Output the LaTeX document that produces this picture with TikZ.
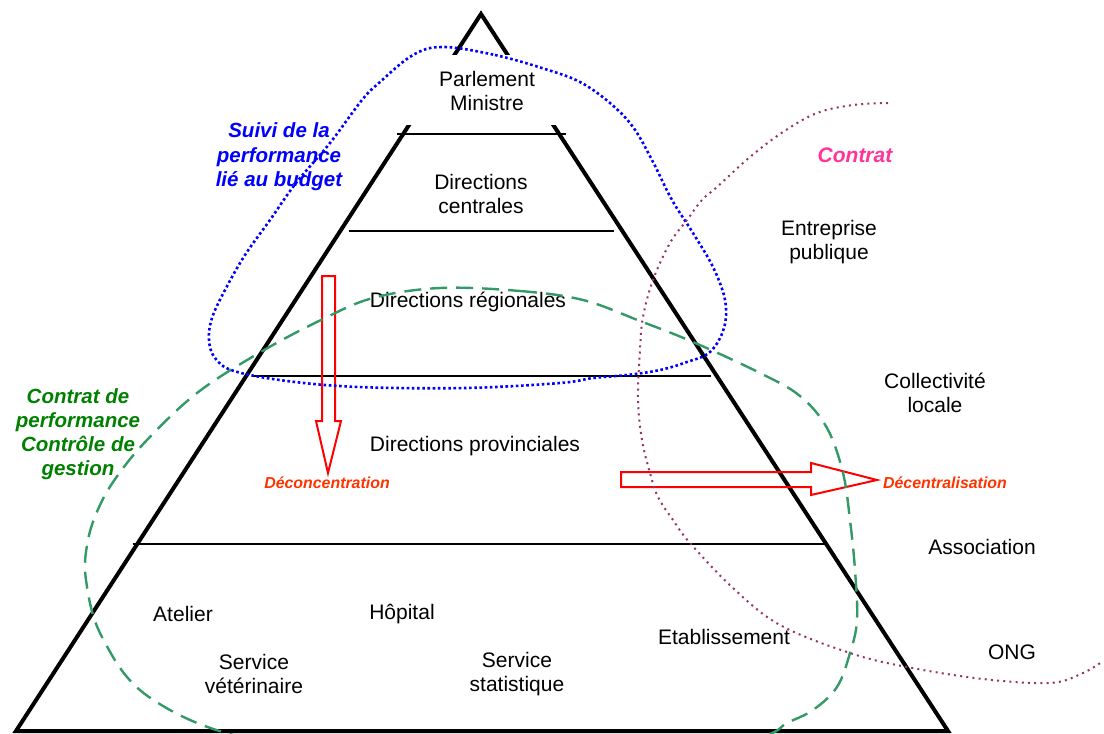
\documentclass[tikz,border=0pt]{standalone}
\usepackage{fontspec}
\setmainfont{Liberation Sans}
\definecolor{myblue}{HTML}{0000FF}
\definecolor{mygreen}{HTML}{339966}
\definecolor{txtgreen}{HTML}{008000}
\definecolor{mypurple}{HTML}{993366}
\definecolor{mypink}{HTML}{FF3399}
\definecolor{myorange}{HTML}{FF3300}
\definecolor{myred}{HTML}{FF0000}
\begin{document}
\begin{tikzpicture}[x=1pt,y=-1pt,
  tri/.style={line width=4pt, line join=miter},
  hline/.style={line width=1.6pt},
  lbl/.style={font=\fontsize{21}{24}\selectfont, align=center, inner sep=0pt},
  bluelbl/.style={font=\fontsize{20.5}{24.5}\selectfont\bfseries\itshape, text=myblue, align=center, inner sep=0pt},
  greenlbl/.style={font=\fontsize{20.5}{24}\selectfont\bfseries\itshape, text=txtgreen, align=center, inner sep=0pt},
  pinklbl/.style={font=\fontsize{21}{24}\selectfont\bfseries\itshape, text=mypink, inner sep=0pt},
  orangelbl/.style={font=\fontsize{15.9}{18}\selectfont\bfseries\itshape, text=myorange, inner sep=0pt},
  redarrow/.style={draw=myred, line width=2pt, line join=miter},
  bluedot/.style={draw=myblue, line width=2.6pt, dash pattern=on 2.6pt off 2.6pt},
  greendash/.style={draw=mygreen, line width=2.4pt, dash pattern=on 17pt off 9pt},
  purpledot/.style={draw=mypurple, line width=2pt, dash pattern=on 2pt off 4.2pt}
]
\path[use as bounding box] (0,0) rectangle (1104,734);
\clip (0,0) rectangle (1104,734);

% pyramid
\coordinate (apex) at (481,14);
\coordinate (bl) at (16,731);
\coordinate (br) at (948,731);
\draw[tri] (bl) -- (apex) -- (br) -- cycle;

% white box of the top level
\node[fill=white, minimum width=170, minimum height=70, inner sep=0pt] (topbox) at (483,90) {};

% level lines
\draw[hline] (397,134) -- (566,134);
\draw[hline] (349,231) -- (614,231);
\draw[hline] (253,376) -- (711,376);
\draw[hline] (133,544) -- (828,544);

% pyramid texts
\node[lbl] (parl) at (487,91) {Parlement\\Ministre};
\node[lbl] (dcent) at (481,194) {Directions\\centrales};
\node[lbl] (dreg) at (468,302) {Directions régionales};
\node[lbl] (dprov) at (475,446) {Directions provinciales};
\node[lbl] (atelier) at (183,614) {Atelier};
\node[lbl] (hopital) at (402,614) {Hôpital};
\node[lbl] (etab) at (724,637) {Etablissement};
\node[lbl] (servvet) at (254,674) {Service\\vétérinaire};
\node[lbl] (servstat) at (517,674) {Service\\statistique};

% outside texts
\node[lbl] (entpub) at (829,242) {Entreprise\\publique};
\node[lbl] (coll) at (935,393) {Collectivité\\locale};
\node[lbl] (assoc) at (982,547) {Association};
\node[lbl] (ong) at (1012,652) {ONG};

% coloured labels
\node[bluelbl] (suivi) at (279,157) {Suivi de la\\performance\\lié au budget};
\node[greenlbl] (contratperf) at (78,434) {Contrat de\\performance\\Contrôle de\\gestion};
\node[pinklbl] (contrat) at (855,155) {Contrat};
\node[orangelbl] (deconc) at (327,483) {Déconcentration};
\node[orangelbl] (decent) at (945,483) {Décentralisation};

% block arrows
\draw[redarrow] (322,276) -- (335,276) -- (335,421) -- (341,421) -- (328,473) -- (316,421) -- (322,421) -- cycle;
\draw[redarrow] (621,472) -- (811,472) -- (811,463) -- (877,480) -- (811,495) -- (811,487) -- (621,487) -- cycle;

% green dashed loop
\draw[greendash] plot[smooth cycle, tension=0.6] coordinates {
 (440,288) (520,291) (583,300) (640,321) (693,342) (760,373) (800,396) (827,428)
 (843,473) (850,520) (855,570) (857,620) (850,653) (837,687) (813,710) (787,723)
 (760,737) (650,760) (450,765) (253,740) (149,697) (102,637) (86,580) (88,540)
 (100,505) (118,475) (147,440) (197,393) (259,353) (321,320) (373,298)};

% blue dotted loop
\draw[bluedot] plot[smooth cycle, tension=0.6] coordinates {
 (443,47) (495,55) (545,69) (580,82) (610,103) (633,127) (652,160) (672,200)
 (693,233) (713,267) (725,300) (724,328) (710,352) (687,362) (660,370) (627,375)
 (593,378) (560,383) (466,388) (359,387) (287,381) (234,371) (215,358) (209,340)
 (212,318) (225,290) (245,255) (270,220) (296,183) (330,143) (362,100) (380,82) (413,55)};

% purple dotted line
\draw[purpledot] plot[smooth, tension=0.6] coordinates {
 (888,103) (853,105) (817,113) (783,132) (750,157) (717,187) (702,200) (687,220)
 (670,243) (653,280) (643,317) (640,350) (638,400) (642,440) (650,473) (658,497)
 (673,520) (690,543) (733,588) (780,625) (850,653) (907,667) (983,679) (1050,683)
 (1083,673) (1103,661)};
\end{tikzpicture}
\end{document}
